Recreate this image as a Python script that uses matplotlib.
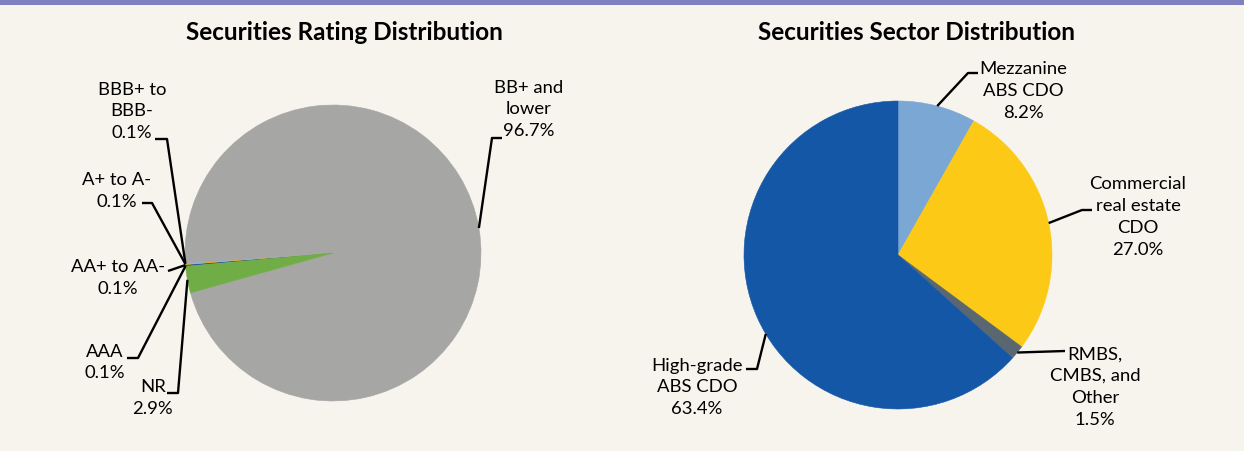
import matplotlib
matplotlib.use("Agg")
import matplotlib.pyplot as plt
import numpy as np
from matplotlib.patches import Rectangle

# ---------------- data ----------------
rating_labels = ["AAA", "AA+ to AA-", "A+ to A-", "BBB+ to BBB-", "BB+ and lower", "NR"]
rating_text = ["AAA", "AA+ to AA-", "A+ to A-", "BBB+ to\nBBB-", "BB+ and\nlower", "NR"]
rating_values = [0.1, 0.1, 0.1, 0.1, 96.7, 2.9]
rating_colors = ["#2E75B6", "#1F4E9A", "#F2B705", "#8FAADC", "#A6A6A5", "#70AD47"]

sector_labels = ["Mezzanine ABS CDO", "Commercial real estate CDO",
                 "RMBS, CMBS, and Other", "High-grade ABS CDO"]
sector_text = ["Mezzanine\nABS CDO", "Commercial\nreal estate\nCDO",
               "RMBS,\nCMBS, and\nOther", "High-grade\nABS CDO"]
sector_values = [8.2, 27.0, 1.5, 63.4]
sector_colors = ["#7BA7D4", "#FCC916", "#5B6770", "#1457A6"]

# ---------------- layout (pixel coords, y measured from top) ----------------
W, H = 1244, 452
BG = "#F7F4EE"
FONT = ["Lato", "DejaVu Sans"]

# label block centre, elbow point, line end near text, anchor fraction in wedge
rating_layout = [
    ((105, 362.5), (138, 359), (127, 359), 0.5),
    ((118, 278), (168, 272), (168, 272), 0.5),
    ((117, 191), (152, 204), (142, 204), 0.5),
    ((132, 111.5), (167, 140), (155, 140), 0.5),
    ((529, 109.5), (492, 139), (502, 139), 0.5),
    ((153, 398), (178, 394), (167, 394), 0.5),
]
sector_layout = [
    ((1023, 91), (968, 74), (978, 74), 0.5),
    ((1138, 217), (1082, 211), (1092, 211), 0.5),
    ((1095, 387), (1065, 352), (1065, 352), 0.5),
    ((697, 387.5), (757, 370), (746, 370), 0.53),
]

fig = plt.figure(figsize=(W / 100, H / 100), dpi=100, facecolor=BG)
ax = fig.add_axes([0, 0, 1, 1])
ax.set_facecolor(BG)


def Y(y):
    return H - y


def draw_pie(values, colors, texts, layout, center, radius, startangle):
    wedges, _ = ax.pie(values, colors=colors, startangle=startangle, counterclock=False,
                       center=(center[0], Y(center[1])), radius=radius,
                       wedgeprops=dict(linewidth=0.4, edgecolor="none"))
    for w, c in zip(wedges, colors):
        w.set_edgecolor(c)
    for w, txt, v, (tc, elbow, tend, frac) in zip(wedges, texts, values, layout):
        ang = np.deg2rad(w.theta1 + frac * (w.theta2 - w.theta1))
        ex = w.center[0] + w.r * np.cos(ang)
        ey = w.center[1] + w.r * np.sin(ang)
        ax.plot([ex, elbow[0], tend[0]], [ey, Y(elbow[1]), Y(tend[1])],
                color="black", lw=1.7, solid_capstyle="butt", zorder=5)
        ax.text(tc[0], Y(tc[1]), f"{txt}\n{v:.1f}%", ha="center", va="center",
                multialignment="center", fontsize=13.3, linespacing=1.45,
                family=FONT, color="#000000", zorder=6)


draw_pie(rating_values, rating_colors, rating_text, rating_layout, (333, 254), 148, 185.2)
draw_pie(sector_values, sector_colors, sector_text, sector_layout, (898, 256), 154, 90)

ax.set_xlim(0, W)
ax.set_ylim(0, H)
ax.set_aspect("auto")
ax.axis("off")

# titles
ax.text(344, Y(33), "Securities Rating Distribution", ha="center", va="center",
        fontsize=17.5, fontweight="bold", family=FONT)
ax.text(916, Y(33), "Securities Sector Distribution", ha="center", va="center",
        fontsize=17.5, fontweight="bold", family=FONT)

# top band
ax.add_patch(Rectangle((0, H - 6), W, 6, color="#8080C0", lw=0, zorder=10))

fig.savefig("out.png", dpi=100, facecolor=BG)
